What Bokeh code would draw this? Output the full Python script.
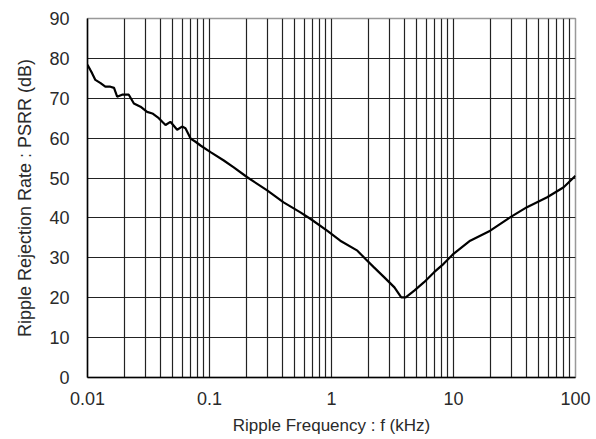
from bokeh.plotting import figure
from bokeh.models import FixedTicker, Range1d, Title
from bokeh.embed import file_html
from bokeh.resources import INLINE

# Data
freq_khz = [0.0100, 0.0105, 0.0109, 0.0116, 0.0128, 0.0140, 0.0154, 0.0165, 0.0175, 0.0192,
            0.0218, 0.0240, 0.0272, 0.0308, 0.0340, 0.0384, 0.0410, 0.0436, 0.0478, 0.0543,
            0.0596, 0.0635, 0.0700, 0.0768, 0.0850, 0.102, 0.131, 0.158, 0.204, 0.297,
            0.405, 0.556, 0.670, 0.920, 1.18, 1.63, 1.90, 2.23, 2.71, 3.28,
            3.73, 4.06, 4.77, 5.74, 6.94, 8.30, 10.0, 13.7, 20.0, 29.3,
            40.0, 58.6, 80.0, 100.0]
psrr_db = [78.4, 77.2, 76.3, 74.6, 73.8, 72.9, 72.9, 72.6, 70.4, 70.9,
           70.9, 68.7, 67.9, 66.6, 66.2, 65.0, 64.1, 63.3, 64.1, 62.1,
           62.9, 62.5, 59.9, 59.1, 58.1, 56.5, 54.4, 52.7, 50.2, 46.9,
           43.9, 41.4, 39.8, 36.8, 34.3, 31.8, 29.7, 27.6, 25.1, 22.6,
           20.1, 20.1, 21.8, 23.9, 26.4, 28.5, 31.0, 34.3, 36.8, 40.2,
           42.7, 45.2, 47.7, 50.6]

x_ticks = [0.01, 0.1, 1, 10, 100]
x_tick_labels = ["0.01", "0.1", "1", "10", "100"]
y_ticks = [0, 10, 20, 30, 40, 50, 60, 70, 80, 90]
x_minor = [m * d for d in [0.01, 0.1, 1, 10] for m in range(2, 10)]
x_title = "Ripple Frequency : f (kHz)"
y_title = "Ripple Rejection Rate : PSRR (dB)"

FONT = "Liberation Sans"
TXT = "#2a2a2a"

p = figure(width=596, height=439, x_axis_type="log",
           x_range=Range1d(0.01, 100), y_range=Range1d(0, 90),
           output_backend="svg", toolbar_location=None,
           min_border_left=87, min_border_right=21, min_border_top=18, min_border_bottom=62)

p.background_fill_color = "white"
p.border_fill_color = "white"
p.outline_line_color = "#999999"
p.outline_line_width = 1.5

# axes
p.xaxis.ticker = FixedTicker(ticks=x_ticks, minor_ticks=x_minor)
p.xaxis.major_label_overrides = {t: lab for t, lab in zip(x_ticks, x_tick_labels)}
p.yaxis.ticker = FixedTicker(ticks=y_ticks)
for ax in (p.xaxis[0], p.yaxis[0]):
    ax.major_tick_in = 0
    ax.major_tick_out = 0
    ax.minor_tick_in = 0
    ax.minor_tick_out = 0
    ax.axis_line_color = "black"
    ax.axis_line_width = 1.5
    ax.major_label_text_font = FONT
    ax.major_label_text_font_size = "18px"
    ax.major_label_text_color = TXT
    ax.axis_label_text_font = FONT
    ax.axis_label_text_font_size = "17px"
    ax.axis_label_text_font_style = "normal"
    ax.axis_label_text_color = TXT

p.xaxis.axis_label = x_title
p.xaxis.major_label_standoff = 14
p.xaxis.axis_label_standoff = 8
p.yaxis.major_label_standoff = 18

# y title as a side title, shifted up like in the reference
ytitle = Title(text=y_title, align="center", offset=13, standoff=23,
               text_font=FONT, text_font_size="18px", text_font_style="normal",
               text_color=TXT)
p.add_layout(ytitle, "left")

# grids
p.xgrid.ticker = FixedTicker(ticks=x_ticks[1:-1], minor_ticks=x_minor)
p.xgrid.grid_line_color = "#222222"
p.xgrid.grid_line_width = 1.2
p.xgrid.minor_grid_line_color = "#222222"
p.xgrid.minor_grid_line_width = 1.2
p.ygrid.ticker = FixedTicker(ticks=y_ticks[1:-1])
p.ygrid.grid_line_color = "#222222"
p.ygrid.grid_line_width = 1.2

p.line(freq_khz, psrr_db, line_color="black", line_width=2.2)

open("out.html", "w").write(file_html(p, INLINE))
